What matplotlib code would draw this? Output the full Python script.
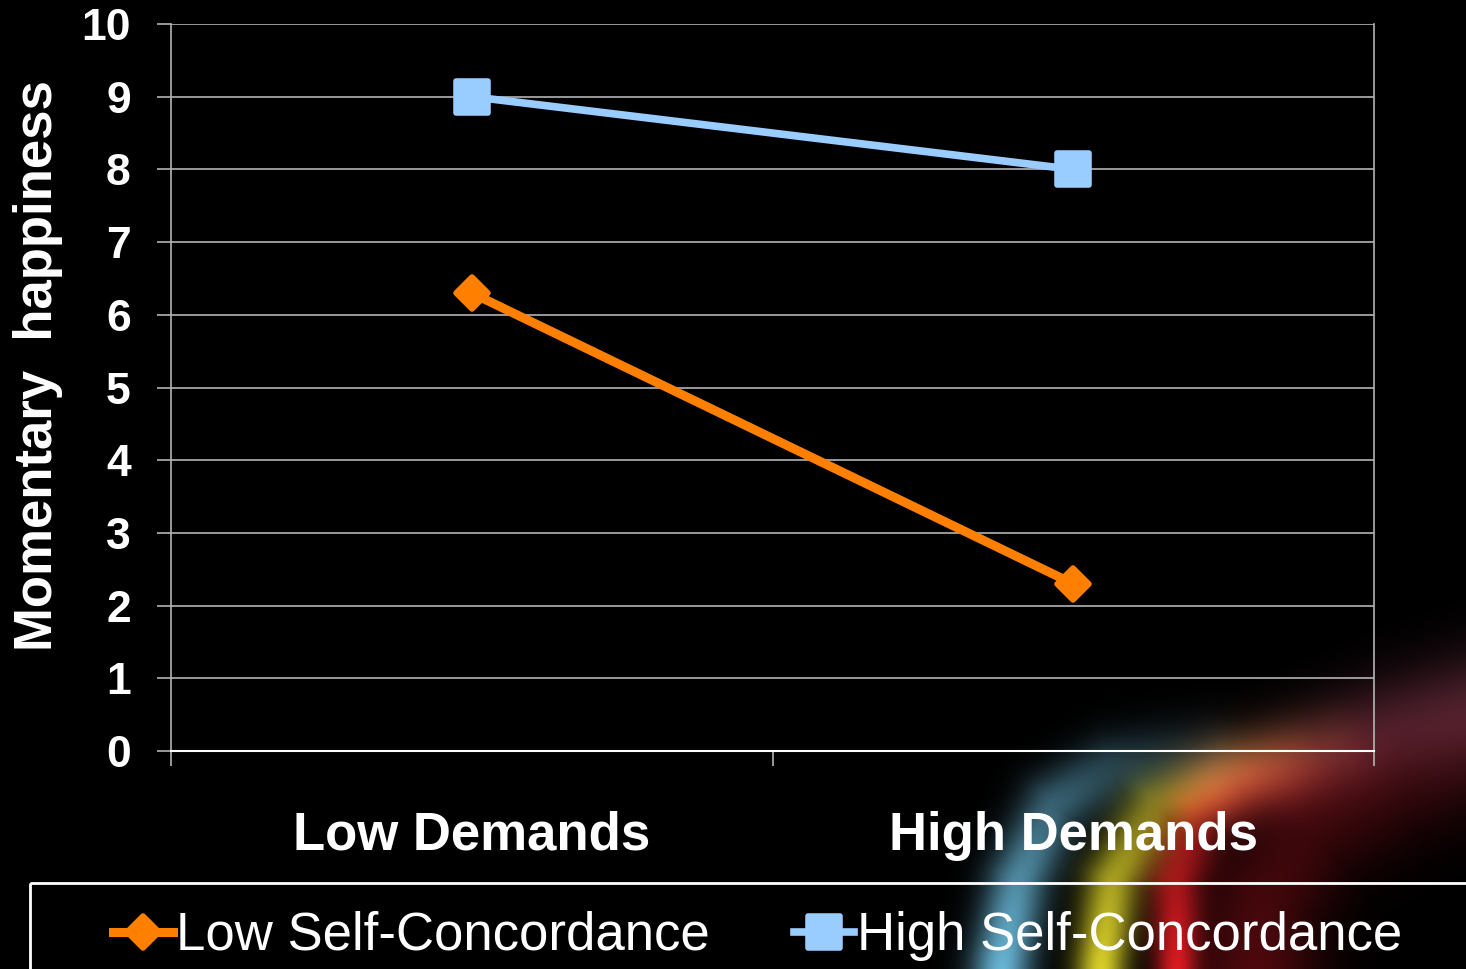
import numpy as np
import matplotlib
matplotlib.use("Agg")
import matplotlib.pyplot as plt
from matplotlib.markers import MarkerStyle
from matplotlib.patches import Rectangle

plt.rcParams['font.family'] = ['Liberation Sans', 'DejaVu Sans']

# data
categories = ['Low Demands', 'High Demands']
low_concordance = [6.3, 2.3]
high_concordance = [9.0, 8.0]
series_names = ['Low Self-Concordance', 'High Self-Concordance']
y_ticks = list(range(0, 11))

ORANGE = '#FF8000'
BLUE = '#99CCFF'
GRID = '#b4b4b4'

W, H = 1466, 969


def add_band(canvas, points, color, w0, w1, a0, a1):
    """Soft glowing stroke along a polyline, width/strength vary along it."""
    yy, xx = np.mgrid[0:H, 0:W].astype(float)
    pts = np.asarray(points, float)
    seg = np.diff(pts, axis=0)
    seglen = np.hypot(seg[:, 0], seg[:, 1])
    cum = np.concatenate([[0.0], np.cumsum(seglen)])
    best_d = np.full((H, W), np.inf)
    best_t = np.zeros((H, W))
    for i in range(len(seg)):
        p, v = pts[i], seg[i]
        u = np.clip(((xx - p[0]) * v[0] + (yy - p[1]) * v[1]) / seglen[i] ** 2, 0, 1)
        d = np.hypot(xx - (p[0] + u * v[0]), yy - (p[1] + u * v[1]))
        m = d < best_d
        best_d[m] = d[m]
        best_t[m] = (cum[i] + u[m] * seglen[i]) / cum[-1]
    w = w0 + (w1 - w0) * best_t
    a = a0 + (a1 - a0) * best_t
    weight = a * np.exp(-0.5 * (best_d / w) ** 2)
    canvas += weight[..., None] * np.asarray(color, float) / 255.0


# background swoosh in the lower right corner
glow = np.zeros((H, W, 3))
add_band(glow, [(1250, 1010), (1262, 900), (1310, 830), (1400, 790), (1520, 760)],
         (105, 12, 18), 45, 40, 0.8, 0.2)
add_band(glow, [(1220, 775), (1320, 748), (1400, 725), (1520, 700)],
         (105, 45, 62), 30, 42, 0.45, 0.75)
add_band(glow, [(1176, 1010), (1175, 880), (1198, 815), (1250, 785), (1340, 760)],
         (225, 28, 35), 13, 28, 1.0, 0.1)
add_band(glow, [(1098, 1010), (1101, 960), (1112, 880), (1155, 805), (1230, 770), (1320, 745)],
         (238, 228, 45), 17, 26, 1.0, 0.08)
add_band(glow, [(998, 1010), (1002, 960), (1018, 880), (1053, 805), (1110, 767), (1200, 745)],
         (115, 200, 235), 21, 24, 1.0, 0.1)
glow = np.clip(glow, 0, 1)

fig = plt.figure(figsize=(14.66, 9.69), dpi=100, facecolor='black')

bg = fig.add_axes([0, 0, 1, 1], zorder=0)
bg.imshow(glow, extent=(0, W, H, 0), aspect='auto', interpolation='bilinear')
bg.set_xlim(0, W)
bg.set_ylim(H, 0)
bg.axis('off')
# legend frame runs off the bottom/right edge
bg.add_patch(Rectangle((30, 883), 3000, 400, fill=False, edgecolor='white', lw=2))

ax = fig.add_axes([171 / W, 1 - 751 / H, 1203 / W, 727 / H], zorder=1)
ax.set_facecolor('none')

x = np.arange(len(categories)) + 0.5
sq = MarkerStyle('s', joinstyle='round')
dm = MarkerStyle('D', joinstyle='round')
l1, = ax.plot(x, low_concordance, color=ORANGE, lw=6.5, marker=dm, ms=16,
              mec=ORANGE, mfc=ORANGE, mew=4, zorder=3)
l2, = ax.plot(x, high_concordance, color=BLUE, lw=5.5, marker=sq, ms=23,
              mec=BLUE, mfc=BLUE, mew=4, zorder=3)

ax.set_xlim(0, 2)
ax.set_ylim(0, 10)
ax.set_yticks(y_ticks)
ax.set_yticklabels([str(t) for t in y_ticks], fontsize=32, fontweight='bold', color='white')
ax.tick_params(axis='y', length=10, width=1.2, color=GRID, pad=19)
ax.yaxis.grid(True, color=GRID, lw=1.2)
ax.set_axisbelow(True)

ax.set_xticks([0, 1, 2])
ax.set_xticklabels([])
ax.tick_params(axis='x', which='major', length=11, width=1.2, color=GRID)
ax.set_xticks(x, categories, minor=True)
ax.tick_params(axis='x', which='minor', length=0, pad=43)
for lbl in ax.get_xticklabels(minor=True):
    lbl.set_fontsize(38)
    lbl.set_fontweight('bold')
    lbl.set_color('white')

ax.spines['top'].set_visible(False)
for side in ['left', 'right']:
    ax.spines[side].set_color(GRID)
    ax.spines[side].set_linewidth(1.2)
ax.spines['bottom'].set_color('white')
ax.spines['bottom'].set_linewidth(1.5)

fig.text(38 / W, 1 - 366 / H, 'Momentary  happiness', rotation=90, ha='center',
         va='center', fontsize=38, fontweight='bold', color='white')

fig.legend([l1, l2], series_names, ncol=2, loc='center left',
           bbox_to_anchor=(113 / W, 1 - 936 / H), frameon=False, fontsize=38,
           labelcolor='white', handlelength=1.14, handletextpad=0.05,
           columnspacing=1.6, borderpad=0, borderaxespad=0, numpoints=1)

fig.savefig('out.png', dpi=100, facecolor='black')
